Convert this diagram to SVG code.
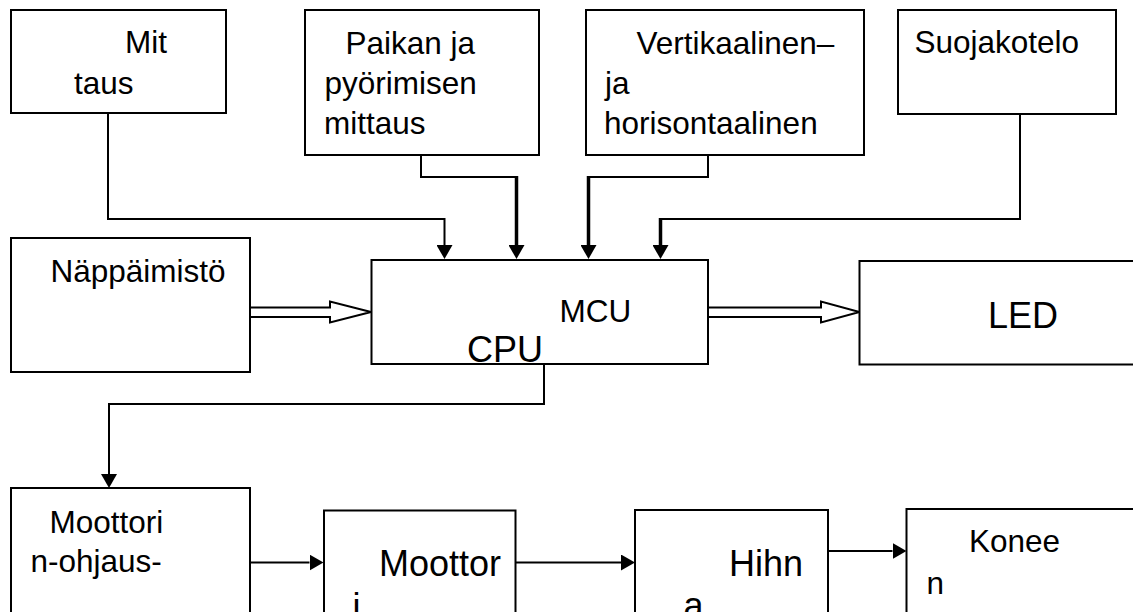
<svg xmlns="http://www.w3.org/2000/svg" width="1133" height="612" viewBox="0 0 1133 612">
<style>
.box{fill:#fff;stroke:#000;stroke-width:2}
.t{font-family:"Liberation Sans",Arial,sans-serif;font-size:31.5px;fill:#000}
.big{font-size:36px}
.ln{fill:none;stroke:#000;stroke-width:2}
.thk{stroke-width:3.5}
.hollow{fill:#fff;stroke:#000;stroke-width:2;stroke-linejoin:miter}
</style>
<defs>
<marker id="ah" viewBox="0 0 14 16" refX="0" refY="8" markerWidth="14" markerHeight="16" markerUnits="userSpaceOnUse" orient="auto">
<path d="M0,0 L14,8 L0,16 z" fill="#000"/>
</marker>
</defs>
<rect width="1133" height="612" fill="#fff"/>
<g id="connectors">
<path class="ln" d="M108,113 V219 H444.5 V245" marker-end="url(#ah)"/>
<path class="ln" d="M421,155 V177 H516.5"/>
<path class="ln thk" d="M516.5,176 V245" marker-end="url(#ah)"/>
<path class="ln" d="M708,155 V177 H588.5"/>
<path class="ln thk" d="M588.5,176 V245" marker-end="url(#ah)"/>
<path class="ln" d="M1020,114 V219 H660.5"/>
<path class="ln thk" d="M660.5,218 V245" marker-end="url(#ah)"/>
<path class="hollow" d="M250,307.5 H330 V301.5 L371,312 L330,322.5 V317 H250"/>
<path class="hollow" d="M708,307.5 H821 V301.5 L859.5,312 L821,322.5 V317 H708"/>
<path class="ln" d="M544,364 V404 H109 V474" marker-end="url(#ah)"/>
<path class="ln" d="M250,562.5 H309.5" marker-end="url(#ah)"/>
<path class="ln" d="M516,562.5 H621" marker-end="url(#ah)"/>
<path class="ln" d="M828,551 H892.5" marker-end="url(#ah)"/>
</g>
<g id="mittaus">
<rect class="box" x="11" y="10" width="215" height="103"/>
<text class="t" x="125" y="53">Mit</text>
<text class="t" x="74" y="94">taus</text>
</g>
<g id="paikan">
<rect class="box" x="305" y="10" width="234" height="145"/>
<text class="t" x="345.5" y="53.5">Paikan ja</text>
<text class="t" x="324.5" y="93.5">pyörimisen</text>
<text class="t" x="324" y="133.5">mittaus</text>
</g>
<g id="vertikaalinen">
<rect class="box" x="586" y="10" width="278" height="145"/>
<text class="t" x="636.5" y="53.5">Vertikaalinen–</text>
<text class="t" x="605" y="93.5">ja</text>
<text class="t" x="604" y="134">horisontaalinen</text>
</g>
<g id="suojakotelo">
<rect class="box" x="898" y="10" width="218" height="104"/>
<text class="t" x="914.5" y="53">Suojakotelo</text>
</g>
<g id="nappaimisto">
<rect class="box" x="11" y="238" width="239" height="134"/>
<text class="t" x="50.5" y="282">Näppäimistö</text>
</g>
<g id="mcu">
<rect class="box" x="371.5" y="260" width="336.5" height="104"/>
<text class="t" x="559.5" y="321.5">MCU</text>
<text class="t big" x="467" y="361.5">CPU</text>
</g>
<g id="led">
<rect class="box" x="859.5" y="261" width="300" height="103.5"/>
<text class="t big" x="988" y="327.5">LED</text>
</g>
<g id="moottorinohjaus">
<rect class="box" x="11" y="488" width="239" height="150"/>
<text class="t" x="49.5" y="532.5">Moottori</text>
<text class="t" x="30.5" y="571.5">n-ohjaus-</text>
</g>
<g id="moottori">
<rect class="box" x="324" y="510.5" width="191.5" height="130"/>
<text class="t big" x="379" y="576">Moottor</text>
<text class="t big" x="352.5" y="618.5">i</text>
</g>
<g id="hihna">
<rect class="box" x="635" y="510" width="193" height="130"/>
<text class="t big" x="729" y="576">Hihn</text>
<text class="t big" x="683.5" y="618">a</text>
</g>
<g id="koneen">
<rect class="box" x="906.5" y="509" width="260" height="130"/>
<text class="t" x="969" y="551.5">Konee</text>
<text class="t" x="926.5" y="593.5">n</text>
</g>
</svg>
